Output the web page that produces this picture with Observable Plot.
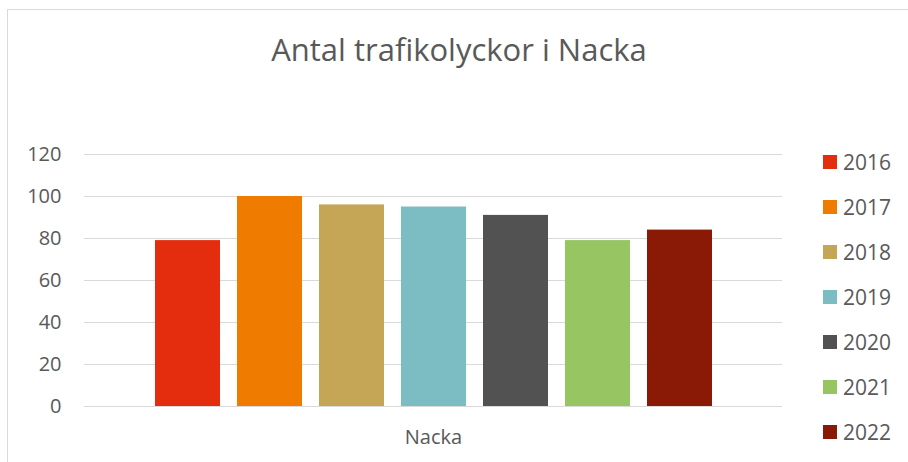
<!DOCTYPE html>
<html>
<head>
<meta charset="utf-8">
<script src="https://cdn.jsdelivr.net/npm/d3@7"></script>
<script src="https://cdn.jsdelivr.net/npm/@observablehq/plot@0.6"></script>
<style>
  html, body { margin: 0; padding: 0; background: #fff; overflow: hidden; }
  #wrap { position: relative; width: 908px; height: 462px; font-family: "Open Sans", sans-serif; color: #595959; }
  #border { position: absolute; left: 7px; top: 9px; width: 1000px; height: 600px; border-top: 1.5px solid #d9d9d9; border-left: 1.5px solid #d9d9d9; }
  #title { position: absolute; left: 0; width: 918px; top: 29px; text-align: center; font-size: 31px; line-height: 40px; }
  #legend { position: absolute; left: 823px; top: 140px; }
  .item { position: absolute; left: 0; white-space: nowrap; font-size: 21px; line-height: 44px; height: 44px; display: flex; align-items: center; }
  .sw { display: inline-block; width: 14px; height: 14px; margin-right: 6px; }
  #chart { position: absolute; left: 0; top: 0; }
</style>
</head>
<body>
<div id="wrap">
  <div id="border"></div>
  <div id="chart"></div>
  <div id="title"></div>
  <div id="legend"></div>
</div>
<script>
const title = "Antal trafikolyckor i Nacka";
const categories = ["Nacka"];
const years = ["2016", "2017", "2018", "2019", "2020", "2021", "2022"];
const values = [79, 100, 96, 95, 91, 79, 84];
const colors = ["#E42D0E", "#EF7C00", "#C5A656", "#7BBDC2", "#525252", "#97C561", "#8A1906"];
const yTicks = [0, 20, 40, 60, 80, 100, 120];

const data = years.map((y, i) => ({category: categories[0], year: y, value: values[i]}));

const chart = Plot.plot({
  width: 908,
  height: 462,
  marginLeft: 84,
  marginRight: 126,
  marginTop: 154,
  marginBottom: 56,
  style: {fontSize: "20px", fontFamily: "Open Sans, sans-serif", color: "#595959", background: "transparent"},
  fx: {domain: categories, padding: 0, label: null, tickSize: 0, tickPadding: 23},
  x: {domain: years, axis: null, paddingInner: 0.21, paddingOuter: 0.85},
  y: {domain: [0, 120], ticks: yTicks, tickSize: 0, tickPadding: 23, label: null},
  color: {domain: years, range: colors},
  marks: [
    Plot.ruleY(yTicks, {stroke: "#d9d9d9", strokeWidth: 1.2}),
    Plot.barY(data, {fx: "category", x: "year", y: "value", fill: "year"})
  ]
});
document.getElementById("chart").appendChild(chart);
document.getElementById("title").textContent = title;

const legend = document.getElementById("legend");
years.forEach((y, i) => {
  const it = document.createElement("div");
  it.className = "item";
  it.style.top = (i * 45) + "px";
  const sw = document.createElement("span");
  sw.className = "sw";
  sw.style.background = colors[i];
  const t = document.createElement("span");
  t.textContent = y;
  it.appendChild(sw);
  it.appendChild(t);
  legend.appendChild(it);
});
</script>
</body>
</html>
